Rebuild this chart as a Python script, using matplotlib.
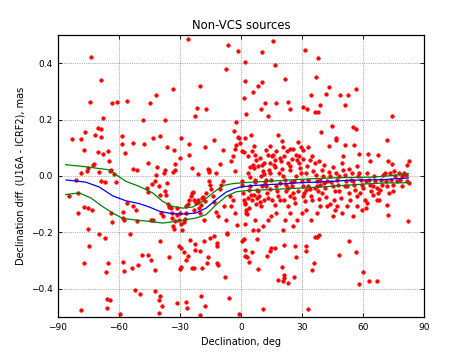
import numpy as np
import matplotlib
matplotlib.use("Agg")
import matplotlib.pyplot as plt

# source positions: (declination deg, decl. difference mas)
pts_high = [
    (-26.0, 0.485), (-6.4, 0.463), (15.6, 0.480), (-1.2, 0.443), (31.7, 0.446), (10.4, 0.439),
    (-73.7, 0.421), (2.0, 0.405), (37.7, 0.420), (16.9, 0.395), (-7.4, 0.381), (-68.8, 0.340),
    (2.1, 0.335), (37.0, 0.350), (10.2, 0.333), (8.2, 0.320), (-20.1, 0.318), (-33.4, 0.309),
    (56.7, 0.307), (43.1, 0.316), (5.9, 0.298), (41.8, 0.291), (21.7, 0.344), (34.5, 0.286),
    (48.5, 0.288), (52.6, 0.288), (-41.9, 0.286), (1.3, 0.276), (-56.1, 0.267), (-74.3, 0.262),
    (-60.9, 0.263), (-63.5, 0.257), (-44.9, 0.257), (17.3, 0.259), (12.0, 0.260), (23.0, 0.263),
    (39.1, 0.252), (51.3, 0.250), (30.4, 0.244), (32.7, 0.238), (36.3, 0.227), (38.0, 0.227),
    (24.2, 0.239), (9.9, 0.238), (-21.4, 0.241), (-17.1, 0.236), (2.3, 0.218), (13.5, 0.211),
    (-22.5, 0.213), (74.5, 0.213), (-67.6, 0.206), (-37.2, 0.199), (-48.2, 0.198),
]

pts_upper = [
    (-76.5, 0.155), (-70.1, 0.170), (-68.8, 0.168), (-71.9, 0.147), (-68.8, 0.138), (-83.0, 0.131),
    (-78.8, 0.131), (-58.4, 0.141), (-58.4, 0.115), (-52.9, 0.117), (-47.9, 0.115), (-43.1, 0.133),
    (-39.6, 0.142), (-29.3, 0.135), (-77.1, 0.092), (-70.4, 0.085), (-67.7, 0.079), (-65.5, 0.090),
    (-57.1, 0.080), (-36.3, 0.103), (-33.0, 0.093), (-25.3, 0.112), (-17.8, 0.104), (-13.0, 0.128),
    (-9.0, 0.091), (-25.6, 0.075), (-29.9, 0.063), (-45.5, 0.046), (-41.4, 0.031), (-37.3, 0.021),
    (-37.8, 0.009), (-41.9, 0.002), (-51.2, 0.020), (-53.1, 0.025), (-72.2, 0.044), (-72.9, 0.038),
    (-75.2, 0.027), (-75.8, 0.018), (-78.6, 0.009), (-64.8, 0.052), (-63.8, 0.022), (-64.6, 0.017),
    (-69.7, 0.015), (-62.5, 0.008), (-32.4, 0.041), (-32.2, 0.021), (-33.4, 0.013), (-24.0, 0.028),
    (-21.0, 0.008), (-16.3, 0.025), (-15.6, 0.013), (-12.5, 0.009), (-10.2, 0.043), (-5.1, 0.054),
    (-3.9, 0.070), (-3.0, 0.097), (-2.5, 0.111), (-3.6, 0.161), (-2.3, 0.192), (-1.3, 0.137),
    (-0.7, 0.135), (-0.3, 0.117), (0.5, 0.088), (1.5, 0.085), (2.1, 0.133), (4.8, 0.146),
    (6.2, 0.105), (6.9, 0.075), (4.3, 0.032), (18.0, 0.144), (20.0, 0.125), (28.1, 0.121),
    (24.0, 0.097), (30.6, 0.093), (33.0, 0.102), (39.3, 0.155), (43.1, 0.105), (46.9, 0.134),
    (47.0, 0.129), (44.7, 0.176), (55.1, 0.175), (56.6, 0.167), (51.1, 0.110), (55.4, 0.109),
    (71.7, 0.127), (57.9, 0.078), (62.6, 0.078), (67.2, 0.075), (63.5, 0.054), (82.6, 0.052),
    (72.2, 0.052), (74.5, 0.044), (81.9, 0.038), (12.5, 0.093), (14.5, 0.105), (16.8, 0.058),
    (20.7, 0.102), (25.7, 0.097), (29.4, 0.101),
    (3.3, 0.070), (5.3, 0.088), (7.2, 0.058), (8.6, 0.034), (9.5, 0.063), (11.5, 0.046),
    (13.2, 0.075), (14.1, 0.046), (17.1, 0.088), (18.8, 0.011), (21.1, 0.070), (22.7, 0.088),
    (25.0, 0.060), (27.0, 0.076), (28.6, 0.046), (30.3, 0.060), (33.9, 0.058), (35.2, 0.070),
    (38.2, 0.052), (40.8, 0.039), (45.4, 0.032), (50.0, 0.070), (53.3, 0.025), (56.9, 0.034),
]

pts_south_band = [
    (-36.5, -0.024), (-37.3, -0.053), (-37.0, -0.069), (-36.0, -0.098), (-35.2, -0.111), (-34.5, -0.115),
    (-34.0, -0.131), (-34.0, -0.148), (-33.6, -0.179), (-32.7, -0.188), (-32.4, -0.160), (-31.6, -0.137),
    (-31.3, -0.114), (-30.3, -0.155), (-30.1, -0.131), (-29.4, -0.169), (-29.1, -0.191), (-27.8, -0.164),
    (-27.6, -0.153), (-27.0, -0.131), (-27.0, -0.108), (-26.0, -0.098), (-25.3, -0.084), (-24.5, -0.072),
    (-24.2, -0.060), (-23.7, -0.056), (-23.2, -0.086), (-22.9, -0.120), (-22.0, -0.096), (-21.2, -0.091),
    (-20.9, -0.084), (-20.4, -0.114), (-19.9, -0.131), (-19.6, -0.103), (-19.2, -0.079), (-18.6, -0.075),
    (-18.4, -0.157), (-17.9, -0.090), (-17.1, -0.060), (-15.8, 0.022), (-15.5, -0.019), (-15.1, -0.031),
    (-14.6, -0.046), (-13.8, -0.072), (-13.0, -0.091), (-12.2, -0.129), (-11.3, -0.143), (-10.5, -0.046),
    (-9.7, -0.031), (-8.9, -0.019), (-8.2, -0.108), (-7.2, -0.155), (-6.7, -0.202),
    (-39.1, -0.131), (-38.5, -0.143), (-56.1, -0.096), (-57.9, -0.127), (-53.3, -0.105), (-51.6, -0.122),
    (-61.5, -0.022), (-63.8, -0.131), (-63.2, -0.164), (-58.2, -0.149), (-57.4, -0.155), (-51.3, -0.161),
    (-80.1, -0.131), (-80.1, -0.062), (-81.3, -0.013), (-77.3, -0.111), (-75.3, -0.114), (-73.0, -0.120),
    (-68.6, -0.019), (-66.8, -0.020), (-44.2, -0.155), (-43.4, -0.155), (-39.6, -0.066), (-40.1, -0.037),
    (-42.4, -0.019), (-43.9, -0.028), (-46.4, -0.043), (-45.6, -0.057), (-84.7, -0.070),
    (-3.9, -0.084), (-3.1, -0.131), (-2.0, -0.174), (-5.6, -0.072), (-4.8, -0.108), (-3.1, 0.017),
]

pts_north_band = [
    (0.3, -0.019), (0.7, -0.031), (1.2, -0.060), (1.5, -0.084), (2.0, -0.101), (2.3, -0.120),
    (2.6, -0.131), (3.0, -0.134), (3.5, -0.079), (3.6, 0.011), (4.3, -0.005), (4.6, -0.037),
    (4.9, -0.066), (5.4, -0.084), (5.9, 0.039), (6.3, 0.027), (6.7, -0.013), (7.1, -0.022),
    (7.6, -0.098), (7.7, -0.049), (8.2, -0.054), (8.9, -0.070), (9.2, -0.091), (9.7, -0.108),
    (10.0, -0.001), (10.4, 0.040), (10.9, 0.017), (11.2, 0.006), (11.8, -0.022), (12.3, -0.037),
    (12.5, -0.013), (12.8, -0.062), (13.3, -0.077), (13.8, 0.022), (14.5, 0.011), (15.0, -0.013),
    (15.5, 0.070), (15.8, 0.076), (16.3, 0.040), (16.8, 0.031), (17.4, -0.037), (17.9, -0.054),
    (18.4, -0.070), (19.1, -0.084), (19.4, 0.063), (19.9, 0.052), (20.4, 0.025), (20.9, 0.001),
    (21.5, -0.013), (22.0, -0.033), (22.4, -0.054), (23.0, -0.105), (23.4, 0.046), (24.0, 0.037),
    (24.3, 0.022), (24.8, -0.022), (25.3, -0.037), (25.8, -0.060), (26.3, -0.079), (26.6, -0.096),
    (27.3, -0.001), (27.8, 0.056), (28.5, 0.070), (28.9, 0.028), (29.4, 0.011), (29.9, -0.019),
    (30.6, -0.037), (30.9, -0.060), (31.4, -0.089), (31.9, 0.011), (32.4, 0.034), (32.9, -0.013),
    (33.2, -0.034), (33.9, -0.046), (34.4, -0.072), (34.9, -0.084), (35.5, 0.017), (36.2, 0.046),
    (36.8, 0.005), (37.2, -0.019), (37.5, -0.037), (38.0, -0.054), (38.5, -0.082), (39.1, -0.013),
    (39.8, 0.020), (40.5, -0.001), (41.0, -0.025), (41.3, -0.043), (41.8, -0.075), (42.4, -0.108),
    (43.1, 0.013), (43.8, 0.001), (44.4, -0.022), (45.1, -0.037), (45.7, -0.084), (46.4, -0.120),
    (47.0, 0.011), (47.4, -0.013), (47.9, -0.031), (48.4, -0.054), (49.0, -0.078), (49.5, 0.046),
    (50.3, 0.020), (51.2, 0.005), (51.6, -0.019), (52.3, -0.037), (53.0, -0.060), (53.6, -0.084),
    (54.4, 0.011), (54.9, -0.019), (55.6, -0.031), (56.1, -0.049), (56.9, -0.072), (57.6, -0.001),
    (58.2, 0.011), (58.9, -0.013), (59.5, -0.031), (60.2, -0.043), (60.9, -0.084), (61.5, -0.114),
    (62.2, 0.011), (62.8, -0.013), (63.5, -0.031), (64.1, -0.054), (64.8, -0.066), (65.5, -0.001),
    (66.1, -0.019), (66.8, -0.043), (67.4, -0.060), (68.1, -0.084), (68.8, -0.013), (69.4, -0.031),
    (70.1, 0.005), (70.7, 0.011), (71.4, -0.019), (72.0, -0.037), (72.7, -0.060), (73.4, 0.011),
    (74.0, -0.013), (74.7, -0.031), (75.3, 0.017), (76.0, -0.001), (76.6, -0.019), (77.6, 0.011),
    (78.3, -0.013), (79.3, -0.001), (80.3, 0.011), (81.3, 0.005), (81.9, -0.019), (82.6, -0.025),
    (1.8, -0.096), (3.9, -0.114), (6.7, -0.155), (8.4, -0.191), (5.9, -0.191), (10.9, -0.179),
    (13.3, -0.155), (15.0, -0.143), (17.4, -0.131), (20.7, -0.191), (21.9, -0.155), (24.0, -0.131),
    (25.7, -0.179), (27.8, -0.155), (29.8, -0.131), (31.9, -0.120), (34.7, -0.155), (37.2, -0.131),
    (39.1, -0.108), (43.8, -0.098), (45.4, -0.143), (47.4, -0.108), (49.5, -0.131), (52.0, -0.108),
    (55.3, -0.143), (56.9, -0.108), (59.4, -0.120), (61.8, -0.096), (66.8, -0.084), (71.7, -0.102),
    (72.5, -0.137),
    (3.9, -0.051), (6.3, -0.066), (7.9, -0.079), (10.2, -0.037), (11.5, -0.084), (14.1, -0.046),
    (15.5, -0.084), (16.8, -0.102), (19.4, -0.025), (21.1, -0.084), (23.4, -0.043), (24.3, -0.072),
    (26.3, -0.019), (28.3, -0.054), (30.3, -0.072), (32.2, -0.051), (36.2, -0.043), (38.8, -0.031),
    (40.1, -0.060), (42.4, -0.019), (46.1, -0.054), (48.4, -0.001), (51.0, -0.037), (53.9, -0.013),
    (58.6, -0.060), (61.5, -0.019), (65.1, -0.037), (68.4, -0.049), (75.0, -0.054), (79.0, -0.037),
]

pts_low = [
    (-75.1, -0.188), (-69.7, -0.205), (-74.7, -0.250), (-66.9, -0.221), (-77.4, -0.307), (-66.4, -0.342),
    (-65.5, -0.309), (-58.0, -0.304), (-57.6, -0.337), (-53.8, -0.328), (-50.8, -0.317), (-48.8, -0.279),
    (-45.6, -0.279), (-44.4, -0.297), (-42.1, -0.333), (-39.6, -0.232), (-35.5, -0.289), (-54.7, -0.207),
    (-51.9, -0.406), (-49.5, -0.419), (-65.9, -0.436), (-64.3, -0.438), (-65.9, -0.469), (-78.6, -0.476),
    (-59.3, -0.491), (-42.2, -0.407), (-39.8, -0.427), (-40.3, -0.440), (-40.3, -0.485), (-38.6, -0.460),
    (-31.4, -0.450), (-27.0, -0.446), (-26.6, -0.467), (-20.2, -0.494), (-19.7, -0.427), (-17.9, -0.462),
    (-5.9, -0.433), (-0.7, -0.491), (10.7, -0.472), (33.0, -0.471), (-30.1, -0.330), (-29.3, -0.322),
    (-30.3, -0.250), (-29.4, -0.256), (-28.1, -0.271), (-27.0, -0.297), (-26.0, -0.285), (-25.2, -0.226),
    (-24.0, -0.328), (-23.2, -0.328), (-22.7, -0.262), (-22.5, -0.241), (-19.9, -0.267), (-19.2, -0.325),
    (-18.1, -0.231), (-16.8, -0.309), (-16.0, -0.289), (-15.1, -0.219), (-13.3, -0.214), (-12.0, -0.236),
    (-11.8, -0.247), (-11.7, -0.307), (-11.5, -0.315), (-7.7, -0.357), (-6.7, -0.205), (0.7, -0.232),
    (1.5, -0.225), (2.1, -0.262), (2.1, -0.285), (2.8, -0.289), (4.1, -0.305), (8.5, -0.330),
    (5.4, -0.269), (1.8, -0.169), (7.7, -0.224), (12.7, -0.285), (14.3, -0.265), (14.8, -0.257),
    (16.8, -0.254), (18.4, -0.370), (20.0, -0.324), (21.0, -0.351), (21.0, -0.363), (20.6, -0.372),
    (23.0, -0.380), (21.2, -0.243), (26.1, -0.359), (26.6, -0.247), (27.1, -0.289), (32.2, -0.250),
    (31.9, -0.267), (35.2, -0.333), (35.9, -0.308), (36.5, -0.217), (37.5, -0.217), (38.2, -0.210),
    (48.2, -0.280), (53.2, -0.232), (56.6, -0.270), (60.2, -0.340), (58.0, -0.383), (63.1, -0.372),
    (66.9, -0.374), (82.0, -0.160),
]

# running mean and its bounds
mean_dec = [-86.0, -76.3, -69.7, -63.2, -56.6, -50.0, -45.1, -40.1, -36.0, -32.9, -27.0, -22.0, -17.1,
            -12.2, -7.2, -3.9, -0.7, 5.9, 12.5, 20.7, 28.9, 37.2, 45.4, 53.6, 61.8, 70.1, 82.4]
mean_val = [-0.014, -0.022, -0.039, -0.070, -0.088, -0.098, -0.110, -0.125, -0.131, -0.134, -0.135, -0.131,
            -0.114, -0.084, -0.057, -0.047, -0.040, -0.034, -0.031, -0.028, -0.024, -0.022, -0.019, -0.015,
            -0.014, -0.013, -0.007]

up_dec = [-86.2, -78.0, -71.4, -64.8, -61.5, -56.6, -50.0, -43.4, -38.5, -33.6, -28.6, -23.7, -18.8,
          -13.8, -8.9, -3.9, 1.0, 7.6, 15.8, 24.0, 32.2, 40.5, 48.7, 56.9, 65.1, 73.4, 82.4]
up_val = [0.040, 0.034, 0.028, 0.022, 0.005, -0.019, -0.037, -0.060, -0.090, -0.108, -0.114, -0.110, -0.090,
          -0.060, -0.034, -0.027, -0.024, -0.021, -0.018, -0.014, -0.011, -0.008, -0.006, -0.005, -0.004,
          0.001, 0.008]

lo_dec = [-86.2, -79.6, -73.8, -68.1, -63.2, -58.2, -53.3, -45.1, -38.5, -35.2, -28.6, -22.0, -17.1,
          -12.2, -7.2, -2.3, 2.6, 12.5, 20.7, 28.9, 37.2, 45.4, 53.6, 61.8, 70.1, 82.4]
lo_val = [-0.066, -0.060, -0.078, -0.108, -0.131, -0.150, -0.155, -0.161, -0.167, -0.164, -0.157, -0.149,
          -0.137, -0.102, -0.072, -0.056, -0.052, -0.049, -0.046, -0.043, -0.040, -0.036, -0.032, -0.028,
          -0.025, -0.024]

pts = np.array(pts_high + pts_upper + pts_south_band + pts_north_band + pts_low)

fig = plt.figure(figsize=(4.71, 3.53), dpi=100)
ax = fig.add_axes([0.123, 0.102, 0.777, 0.799])

ax.plot(pts[:, 0], pts[:, 1], 'o', color='red', markeredgecolor='red', markersize=2.6,
        markeredgewidth=0.4, linestyle='none')
ax.plot(up_dec, up_val, color='green', lw=0.9)
ax.plot(lo_dec, lo_val, color='green', lw=0.9)
ax.plot(mean_dec, mean_val, color='blue', lw=0.9)

ax.set_xlim(-90, 90)
ax.set_ylim(-0.5, 0.5)
ax.set_xticks(np.arange(-90, 91, 30))
ax.set_yticks([-0.4, -0.2, 0.0, 0.2, 0.4])
ax.set_yticklabels(['\u22120.4', '\u22120.2', '0.0', '0.2', '0.4'])
ax.tick_params(direction='in', top=True, right=True, labelsize=6.5, length=3, width=0.6, pad=4)
ax.grid(True, color='black', linestyle=':', linewidth=0.5, alpha=0.6)
for s in ax.spines.values():
    s.set_linewidth(0.9)

ax.set_title("Non-VCS sources", fontsize=8.4, pad=4)
ax.set_xlabel("Declination, deg", fontsize=7)
ax.set_ylabel("Declination diff. (U16A - ICRF2), mas", fontsize=7)

fig.savefig("out.png", dpi=100)
